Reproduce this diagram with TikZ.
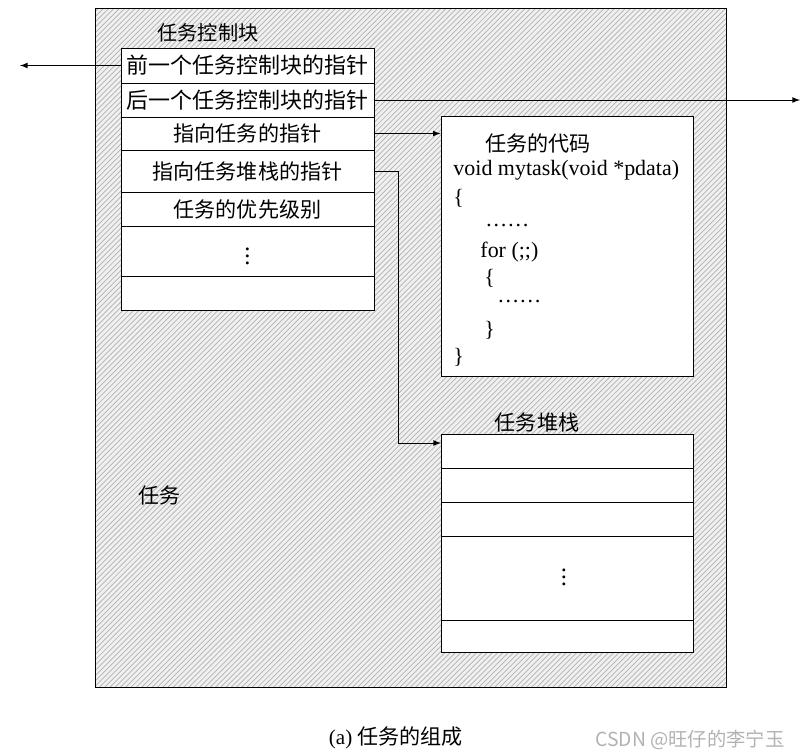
\documentclass[tikz,border=0pt]{standalone}
\usepackage{fontspec}
\setmainfont{Liberation Serif}
\newfontfamily\cjk{Noto Sans CJK SC}
\usetikzlibrary{patterns}
\tikzset{
	tcbrow/.style={draw, fill=white, minimum width=5.06cm, inner sep=0pt, font=\cjk\fontsize{12}{14}\selectfont},
	stackrow/.style={draw, fill=white, minimum width=5.04cm, inner sep=0pt},
	codeline/.style={anchor=west, inner sep=0pt, font=\fontsize{12.5}{14}\selectfont},
	captext/.style={inner sep=0pt, font=\cjk\fontsize{12}{14}\selectfont}
}
\begin{document}
\begin{tikzpicture}[x=0.02cm, y=-0.02cm, line width=0.5pt]
\useasboundingbox (0,0) rectangle (809,755);

%task
\fill[gray!12] (95,8) rectangle (726,687);
\fill[pattern=north east lines, pattern color=gray!60] (95,8) rectangle (726,687);
\draw (95,8) rectangle (726,687);
\node (tasktitle) [captext] at (160,495) {任务};

%control block
\node (tcbtitle) [captext, font=\cjk\fontsize{11.5}{13}\selectfont] at (208,33) {任务控制块};
\node (prev) [tcbrow, minimum height=0.70cm, font=\cjk\fontsize{12.5}{14}\selectfont] at (247.5,65.5) {前一个任务控制块的指针};
\node (next) [tcbrow, minimum height=0.68cm, font=\cjk\fontsize{12.5}{14}\selectfont] at (247.5,100) {后一个任务控制块的指针};
\node (taskptr) [tcbrow, minimum height=0.66cm] at (247.5,133.5) {指向任务的指针};
\node (stackptr) [tcbrow, minimum height=0.84cm] at (247.5,171) {指向任务堆栈的指针};
\node (prio) [tcbrow, minimum height=0.68cm] at (247.5,209) {任务的优先级别};
\node (more) [tcbrow, minimum height=1.00cm, font=\fontsize{14}{16}\selectfont] at (247.5,251) {$\vdots$};
\node (last) [tcbrow, minimum height=0.68cm] at (247.5,293) {};

%code
\node (code) [draw, fill=white, minimum width=5.04cm, minimum height=5.2cm] at (567,246) {};
\node (codetitle) [captext] at (538,143) {任务的代码};
\node (c1) [codeline] at (453,170) {void mytask(void *pdata)};
\node (c2) [codeline] at (453,198) {\{};
\node (c3) [codeline] at (485,226) {……};
\node (c4) [codeline] at (480,252) {for (;;)};
\node (c5) [codeline] at (484,278) {\{};
\node (c6) [codeline] at (497,302) {……};
\node (c7) [codeline] at (484,330) {\}};
\node (c8) [codeline] at (453,357) {\}};

%stack
\node (stacktitle) [captext] at (537,422) {任务堆栈};
\node (s1) [stackrow, minimum height=0.68cm] at (567,451) {};
\node (s2) [stackrow, minimum height=0.68cm] at (567,485) {};
\node (s3) [stackrow, minimum height=0.68cm] at (567,519) {};
\node (s4) [stackrow, minimum height=1.68cm] at (567,578) {};
\node (s5) [stackrow, minimum height=0.64cm] at (567,636) {};
\node (sdots) [inner sep=0pt, font=\fontsize{14}{16}\selectfont] at (564,572) {$\vdots$};

%links
\coordinate (prevend) at (20,65.5);
\coordinate (nextend) at (800,100);
\coordinate (stackin) at (441,443);
\draw[-latex] (prev.west) -- (prevend);
\draw[-latex] (next.east) -- (nextend);
\draw[-latex] (taskptr.east) -- (taskptr.east -| code.west);
\draw[-latex] (stackptr.east) -| (398,443) -- (stackin);

%caption
\node (caption) [font=\fontsize{12}{14}\selectfont] at (396,738) {(a) {\cjk 任务的组成}};
\node (mark) [font=\cjk\fontsize{11}{13}\selectfont, text=gray!60] at (690,740) {CSDN @旺仔的李宁玉};

\end{tikzpicture}
\end{document}
